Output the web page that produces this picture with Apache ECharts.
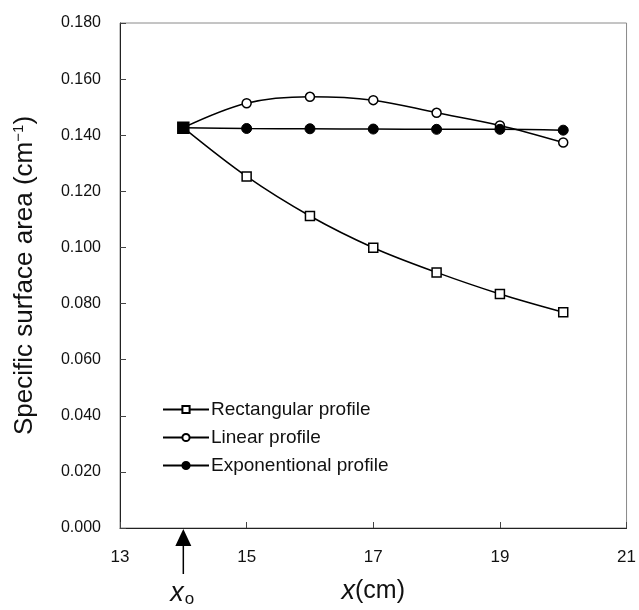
<!DOCTYPE html>
<html>
<head>
<meta charset="utf-8">
<script src="https://cdn.jsdelivr.net/npm/echarts@6/dist/echarts.min.js"></script>
<style>
html,body{margin:0;padding:0;background:#fff;}
#c{width:639px;height:610px;}
</style>
</head>
<body>
<div id="c"></div>
<script>
const xValues = [14, 15, 16, 17, 18, 19, 20];
const rectangular = [0.1427, 0.1253, 0.1112, 0.0999, 0.0911, 0.0834, 0.0769];
const linear = [0.1427, 0.1514, 0.1537, 0.1525, 0.1480, 0.1435, 0.1374];
const exponential = [0.1427, 0.1424, 0.1423, 0.1422, 0.1421, 0.1421, 0.1418];
const seriesNames = ['Rectangular profile', 'Linear profile', 'Exponentional profile'];
const xStartValue = 14;

const FONT = '"Liberation Sans", Arial, sans-serif';

function pts(vals, hideFirst, firstFilledSquare) {
  return vals.map((v, i) => {
    const item = { value: [xValues[i], v] };
    if (i === 0 && hideFirst) { item.symbol = 'none'; }
    if (i === 0 && firstFilledSquare) {
      item.symbolSize = 11;
      item.itemStyle = { color: '#000', borderColor: '#000' };
    }
    return item;
  });
}

const chart = echarts.init(document.getElementById('c'), null, { renderer: 'canvas' });
const lineStyle = { color: '#000', width: 1.5 };

chart.setOption({
  animation: false,
  backgroundColor: '#fff',
  grid: { left: 120, right: 12, top: 23, bottom: 79, show: true, borderColor: '#8a8a8a', borderWidth: 1 },
  legend: {
    orient: 'vertical',
    left: 157,
    top: 395,
    itemWidth: 46,
    itemHeight: 9,
    itemGap: 9,
    textStyle: { fontFamily: FONT, fontSize: 19, color: '#111', padding: [0, 0, 0, -3] },
    data: seriesNames
  },
  xAxis: {
    type: 'value', min: 13, max: 21, interval: 2,
    axisLine: { show: true, lineStyle: { color: '#222', width: 1 } },
    axisTick: { show: true, inside: true, length: 6, lineStyle: { color: '#444' } },
    splitLine: { show: false },
    axisLabel: { fontFamily: FONT, fontSize: 17, color: '#111', margin: 21 },
    name: '{i|x}{n|(cm)}',
    nameLocation: 'middle',
    nameGap: 50,
    nameTextStyle: {
      rich: {
        i: { fontFamily: FONT, fontSize: 27, fontStyle: 'italic', color: '#111' },
        n: { fontFamily: FONT, fontSize: 25, color: '#111' }
      }
    }
  },
  yAxis: {
    type: 'value', min: 0, max: 0.18, interval: 0.02,
    axisLine: { show: true, lineStyle: { color: '#222', width: 1 } },
    axisTick: { show: true, inside: true, length: 6, lineStyle: { color: '#444' } },
    splitLine: { show: false },
    axisLabel: { fontFamily: FONT, fontSize: 16, color: '#111', margin: 19, formatter: v => v.toFixed(3) },
    name: '{n|Specific surface area (cm}{s|−1}{n|)}',
    nameLocation: 'middle',
    nameGap: 82,
    nameTextStyle: {
      rich: {
        n: { fontFamily: FONT, fontSize: 26, color: '#111' },
        s: { fontFamily: FONT, fontSize: 15, color: '#111', verticalAlign: 'top', padding: [0, 0, 12, 0] }
      }
    }
  },
  series: [
    {
      name: seriesNames[1], type: 'line', smooth: 0.35,
      data: pts(linear, true, false),
      symbol: 'circle', symbolSize: 9,
      itemStyle: { color: '#fff', borderColor: '#000', borderWidth: 1.5 },
      lineStyle: lineStyle, z: 2
    },
    {
      name: seriesNames[2], type: 'line', smooth: 0.35,
      data: pts(exponential, true, false),
      symbol: 'circle', symbolSize: 10,
      itemStyle: { color: '#000', borderColor: '#000', borderWidth: 1 },
      lineStyle: lineStyle, z: 3
    },
    {
      name: seriesNames[0], type: 'line', smooth: 0.35,
      data: pts(rectangular, false, true),
      symbol: 'rect', symbolSize: 9,
      itemStyle: { color: '#fff', borderColor: '#000', borderWidth: 1.5 },
      lineStyle: lineStyle, z: 4
    }
  ]
});

// Arrow and x_o label at the start position
const p = chart.convertToPixel({ xAxisIndex: 0, yAxisIndex: 0 }, [xStartValue, 0]);
chart.setOption({
  graphic: [
    { type: 'polygon', shape: { points: [[p[0], p[1] + 1], [p[0] - 8, p[1] + 18], [p[0] + 8, p[1] + 18]] }, style: { fill: '#000' } },
    { type: 'line', shape: { x1: p[0], y1: p[1] + 17, x2: p[0], y2: p[1] + 46 }, style: { stroke: '#000', lineWidth: 1.5 } },
    {
      type: 'text', x: p[0] - 1, y: p[1] + 65,
      style: {
        text: '{i|x}{s|o}', align: 'center', verticalAlign: 'middle',
        rich: {
          i: { fontFamily: FONT, fontSize: 27, fontStyle: 'italic', fill: '#111' },
          s: { fontFamily: FONT, fontSize: 17, fill: '#111', padding: [12, 0, 0, 1] }
        }
      }
    }
  ]
});
</script>
</body>
</html>
